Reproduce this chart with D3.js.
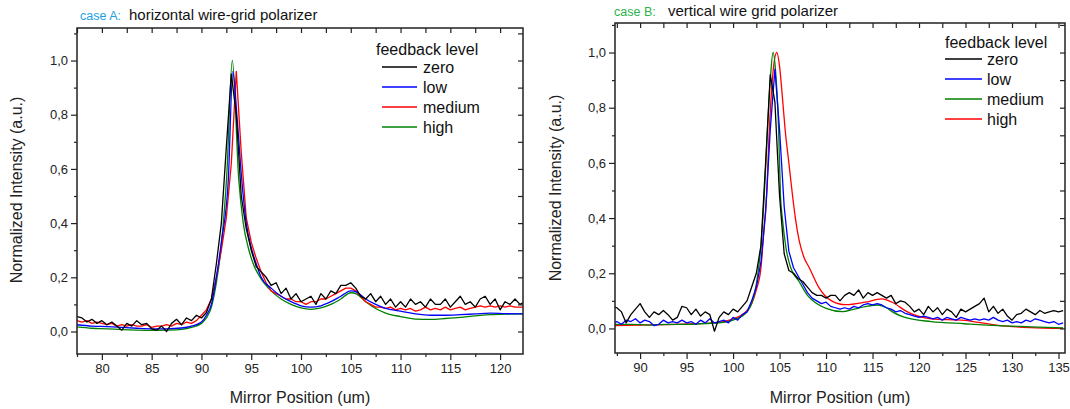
<!DOCTYPE html>
<html>
<head>
<meta charset="utf-8">
<script src="https://cdn.jsdelivr.net/npm/d3@7"></script>
<style>
  body { margin: 0; background: #fff; }
  svg { display: block; font-family: "Liberation Sans", Arial, sans-serif; }
</style>
</head>
<body>
<div id="chart"></div>
<script>
// ---- case A : horizontal wire-grid polarizer ----
var gridA = d3.range(77.5, 122.51, 0.5);  // sample positions of the noisy traces (um)
var aZero = [
  .055,.05,.035,.045,.03,.04,.025,.035,.02,.005,
  .03,.02,.04,.025,.03,.01,.005,.02,0,.03,
  .045,.025,.05,.04,.06,.05,.07,.12,.25,.4,
  .68,.95,.8,.5,.38,.3,.24,.22,.2,.17,
  .18,.14,.16,.12,.14,.11,.12,.13,.1,.14,
  .12,.15,.14,.17,.17,.18,.16,.13,.12,.14,
  .11,.13,.1,.12,.09,.11,.09,.12,.1,.11,
  .09,.12,.1,.1,.12,.09,.11,.13,.1,.11,
  .09,.12,.13,.1,.12,.08,.11,.1,.12,.1,
  .11
];
var aMedium = [
  .04,.035,.04,.03,.035,.03,.025,.03,.02,.025,
  .02,.025,.02,.02,.025,.015,.02,.02,.025,.02,
  .03,.025,.035,.03,.04,.06,.08,.12,.2,.3,
  .42,.62,.96,.66,.42,.33,.27,.22,.18,.15,
  .14,.13,.12,.12,.11,.11,.1,.11,.11,.12,
  .12,.13,.14,.15,.16,.16,.15,.13,.11,.1,
  .09,.09,.085,.09,.08,.085,.08,.085,.075,.08,
  .09,.08,.085,.08,.09,.08,.085,.09,.08,.085,
  .09,.095,.09,.095,.09,.095,.09,.095,.09,.09,
  .09
];
var aLow = [[77.5,.025],[79,.02],[80.5,.018],[82,.015],[83.5,.012],[85,.01],[86.5,.01],[88,.013],[89,.02],[90,.035],
  [90.5,.06],[91,.1],[91.5,.2],[92,.33],[92.7,.56],[93.15,.96],[93.6,.78],[94.05,.56],[94.5,.4],[95,.31],
  [95.5,.25],[96,.2],[97,.16],[98,.13],[99,.11],[100,.095],[101,.09],[102,.095],[103,.11],[104,.13],
  [105,.15],[105.6,.145],[106.5,.12],[107.5,.1],[108.5,.085],[110,.075],[111.5,.065],[113,.06],[114.5,.06],[116,.062],
  [117.5,.065],[119,.068],[120.5,.066],[122.5,.065]];
var aHigh = [[77.5,.017],[79,.012],[80.5,.01],[82,.007],[83.5,.005],[85,.004],[86.5,.005],[88,.008],[89,.015],[90,.03],
  [90.5,.05],[91,.09],[91.5,.18],[92,.32],[92.55,.58],[93.1,1.0],[93.75,.56],[94.2,.4],[94.7,.31],[95.2,.25],
  [95.9,.2],[97,.15],[98,.12],[99,.1],[100,.087],[101,.082],[102,.087],[103,.1],[104,.12],[105,.143],
  [105.6,.138],[106.5,.11],[107.5,.085],[108.5,.068],[110,.055],[111.5,.046],[113,.045],[114.5,.048],[116,.052],[117.5,.058],
  [119,.062],[120.5,.064],[122.5,.065]];

// ---- case B : vertical wire grid polarizer ----
var gridB = d3.range(87, 135.51, 0.5);
var bZero = [
  .08,.075,.06,.02,.05,.07,.09,.06,.04,.06,
  .05,.065,.05,.03,.04,.08,.075,.05,.07,.045,
  .06,.05,-.01,.04,.06,.05,.07,.06,.08,.1,
  .15,.2,.3,.6,.92,.82,.48,.27,.21,.2,
  .18,.17,.15,.13,.12,.12,.11,.12,.12,.1,
  .12,.13,.12,.14,.11,.13,.12,.13,.12,.11,
  .12,.09,.1,.095,.08,.06,.07,.05,.08,.06,
  .075,.05,.07,.06,.04,.07,.06,.07,.08,.09,
  .11,.06,.08,.055,.07,.045,.03,.05,.055,.07,
  .06,.05,.065,.055,.06,.065,.06,.065
];
var bLow = [
  .02,.025,.015,.03,.025,.035,.02,.03,.025,.01,
  .015,.03,.02,.025,.02,.03,.02,.025,.015,.03,
  .02,.035,.02,.025,.03,.02,.04,.03,.05,.06,
  .1,.15,.24,.42,.72,.94,.72,.44,.28,.22,
  .19,.16,.13,.11,.1,.09,.095,.08,.075,.07,
  .075,.07,.08,.075,.085,.09,.085,.09,.085,.075,
  .07,.06,.065,.055,.05,.045,.04,.045,.04,.035,
  .04,.03,.04,.035,.03,.04,.035,.03,.035,.03,
  .035,.03,.04,.03,.025,.03,.02,.025,.02,.03,
  .025,.035,.03,.025,.02,.025,.015,.02
];
var bMedium = [[87,.015],[89,.015],[91,.012],[93,.015],[95,.015],[97,.018],[99,.022],[100,.03],[101,.045],[101.5,.06],
  [102,.09],[102.5,.16],[103,.3],[103.35,.48],[103.7,.72],[104,.9],[104.3,1.0],[104.6,.92],[104.9,.72],[105.1,.48],
  [105.3,.4],[105.7,.29],[106.2,.22],[107.1,.17],[108,.12],[108.5,.103],[110,.073],[111.8,.061],[113,.07],[114.2,.079],
  [115.6,.085],[116.5,.075],[117.1,.061],[118.8,.037],[121.3,.025],[124.9,.017],[128.5,.01],[132,.006],[135.5,.002]];
var bHigh = [[87,.01],[90,.012],[93,.014],[96,.017],[98,.02],[99,.025],[100,.035],[101,.05],[101.5,.065],[102,.09],
  [102.5,.14],[103,.22],[103.3,.35],[103.6,.48],[103.9,.72],[104.3,.93],[104.7,1.0],[105,.95],[105.3,.84],[105.6,.72],
  [106,.6],[106.4,.48],[106.7,.4],[107.1,.32],[107.6,.26],[108.2,.22],[109.2,.15],[110.6,.1],[112.1,.086],[114.2,.095],
  [116,.107],[117.1,.095],[118.8,.059],[121.3,.035],[124.9,.029],[128.5,.011],[132,.003],[135.5,0]];

// tick labels
var aXTicks = [80, 85, 90, 95, 100, 105, 110, 115, 120];
var bXTicks = [90, 95, 100, 105, 110, 115, 120, 125, 130, 135];
var yTicks = [0, 0.2, 0.4, 0.6, 0.8, 1.0];

var BLACK = "#000000", BLUE = "#0000ff", RED = "#ff0000", GREEN = "#008000";

function zip(xs, ys) { return xs.map(function (v, i) { return [v, ys[i]]; }); }

var comma = d3.formatLocale({ decimal: ",", thousands: ".", grouping: [3], currency: ["", ""] }).format(".1f");

var svg = d3.select("#chart").append("svg")
  .attr("width", 1070)
  .attr("height", 409);

function panel(p) {
  var x = d3.scaleLinear().domain(p.xDomain).range([p.left, p.right]);
  var y = d3.scaleLinear().domain(p.yDomain).range([p.bottom, p.top]);
  var g = svg.append("g");

  svg.append("clipPath").attr("id", "clip" + p.id)
    .append("rect")
    .attr("x", p.left).attr("y", p.top)
    .attr("width", p.right - p.left).attr("height", p.bottom - p.top);

  // traces, last one ends on top
  var curves = g.append("g").attr("clip-path", "url(#clip" + p.id + ")");
  p.series.forEach(function (s) {
    var line = d3.line()
      .x(function (d) { return x(d[0]); })
      .y(function (d) { return y(d[1]); })
      .curve(s.smooth ? d3.curveMonotoneX : d3.curveLinear);
    curves.append("path")
      .datum(s.data)
      .attr("d", line)
      .attr("fill", "none")
      .attr("stroke", s.color)
      .attr("stroke-width", 1.3)
      .attr("stroke-linejoin", "round");
  });

  var inX = function (v) { return v >= p.xDomain[0] && v <= p.xDomain[1]; };
  var inY = function (v) { return v >= p.yDomain[0] && v <= p.yDomain[1] + 1e-9; };
  var xMinor = d3.range(75, 140, 5).map(function (v) { return v + 2.5; }).filter(inX);
  var xAll = d3.range(75, 140, 2.5).filter(inX);
  var yMinor = [0.1, 0.3, 0.5, 0.7, 0.9, 1.1].filter(inY);
  var yAll = d3.range(0, 12).map(function (v) { return v / 10; }).filter(inY);

  function axis(gen, tr) {
    var a = g.append("g").attr("transform", tr).call(gen);
    a.select(".domain").remove();
    a.selectAll("line").attr("stroke", "#222").attr("stroke-width", 1.2);
    a.selectAll("text").attr("fill", "#222").style("font-size", "13px");
    return a;
  }
  // bottom
  axis(d3.axisBottom(x).tickValues(p.xTicks).tickSize(6).tickPadding(4).tickFormat(d3.format("d")),
    "translate(0," + p.bottom + ")");
  axis(d3.axisBottom(x).tickValues(xMinor).tickSize(3).tickFormat(""),
    "translate(0," + p.bottom + ")");
  // top, inward
  axis(d3.axisTop(x).tickValues(xAll).tickSize(-5).tickFormat(""),
    "translate(0," + p.top + ")");
  // left
  axis(d3.axisLeft(y).tickValues(yTicks).tickSize(6).tickPadding(3).tickFormat(comma),
    "translate(" + p.left + ",0)");
  axis(d3.axisLeft(y).tickValues(yMinor).tickSize(3).tickFormat(""),
    "translate(" + p.left + ",0)");
  // right, inward
  axis(d3.axisRight(y).tickValues(yAll).tickSize(-5).tickFormat(""),
    "translate(" + p.right + ",0)");

  g.append("rect")
    .attr("x", p.left).attr("y", p.top)
    .attr("width", p.right - p.left).attr("height", p.bottom - p.top)
    .attr("fill", "none").attr("stroke", "#222").attr("stroke-width", 1.5);

  // axis titles
  g.append("text")
    .attr("x", (p.left + p.right) / 2).attr("y", 403)
    .attr("text-anchor", "middle")
    .style("font-size", "16px").attr("fill", "#222")
    .text("Mirror Position (um)");
  g.append("text")
    .attr("transform", "translate(" + p.yTitleX + "," + p.yTitleY + ")rotate(-90)")
    .attr("text-anchor", "middle")
    .style("font-size", "16px").attr("fill", "#222")
    .text("Normalized Intensity (a.u.)");

  // panel title
  g.append("text")
    .attr("x", p.caseX).attr("y", p.titleY)
    .style("font-size", "12.5px").attr("fill", p.caseColor)
    .text(p.caseLabel);
  g.append("text")
    .attr("x", p.titleX).attr("y", p.titleY)
    .style("font-size", "15px").attr("fill", "#111")
    .text(p.title);

  // legend
  var lg = g.append("g");
  lg.append("text")
    .attr("x", p.legend.titleX).attr("y", p.legend.titleY + 5.5)
    .style("font-size", "16px").attr("fill", "#111")
    .text("feedback level");
  p.legendItems.forEach(function (it, i) {
    var yy = p.legend.y0 + i * p.legend.dy;
    lg.append("line")
      .attr("x1", p.legend.lineX0).attr("x2", p.legend.lineX1)
      .attr("y1", yy).attr("y2", yy)
      .attr("stroke", it.color).attr("stroke-width", 1.3);
    lg.append("text")
      .attr("x", p.legend.textX).attr("y", yy + 5.5)
      .style("font-size", "16px").attr("fill", "#111")
      .text(it.name);
  });
}

panel({
  id: "A",
  left: 77, right: 523, top: 28, bottom: 354,
  xDomain: [77.5, 122.3], yDomain: [-0.083, 1.12],
  xTicks: aXTicks,
  yTitleX: 22, yTitleY: 190,
  caseX: 80, caseLabel: "case A:", caseColor: "#1ba1e2",
  titleX: 129, titleY: 20, title: "horizontal wire-grid polarizer",
  series: [
    { color: GREEN, smooth: true, data: aHigh },
    { color: RED, smooth: false, data: zip(gridA, aMedium) },
    { color: BLUE, smooth: true, data: aLow },
    { color: BLACK, smooth: false, data: zip(gridA, aZero) }
  ],
  legend: { titleX: 376, titleY: 49, lineX0: 382, lineX1: 417, textX: 423, y0: 67, dy: 20 },
  legendItems: [
    { name: "zero", color: BLACK }, { name: "low", color: BLUE },
    { name: "medium", color: RED }, { name: "high", color: GREEN }
  ]
});

panel({
  id: "B",
  left: 615, right: 1065, top: 23, bottom: 353,
  xDomain: [87.3, 135.7], yDomain: [-0.089, 1.107],
  xTicks: bXTicks,
  yTitleX: 561, yTitleY: 188,
  caseX: 614, caseLabel: "case B:", caseColor: "#2db34a",
  titleX: 668, titleY: 16, title: "vertical wire grid polarizer",
  series: [
    { color: RED, smooth: true, data: bHigh },
    { color: GREEN, smooth: true, data: bMedium },
    { color: BLUE, smooth: false, data: zip(gridB, bLow) },
    { color: BLACK, smooth: false, data: zip(gridB, bZero) }
  ],
  legend: { titleX: 945, titleY: 42, lineX0: 945, lineX1: 982, textX: 987, y0: 59, dy: 20 },
  legendItems: [
    { name: "zero", color: BLACK }, { name: "low", color: BLUE },
    { name: "medium", color: GREEN }, { name: "high", color: RED }
  ]
});
</script>
</body>
</html>
